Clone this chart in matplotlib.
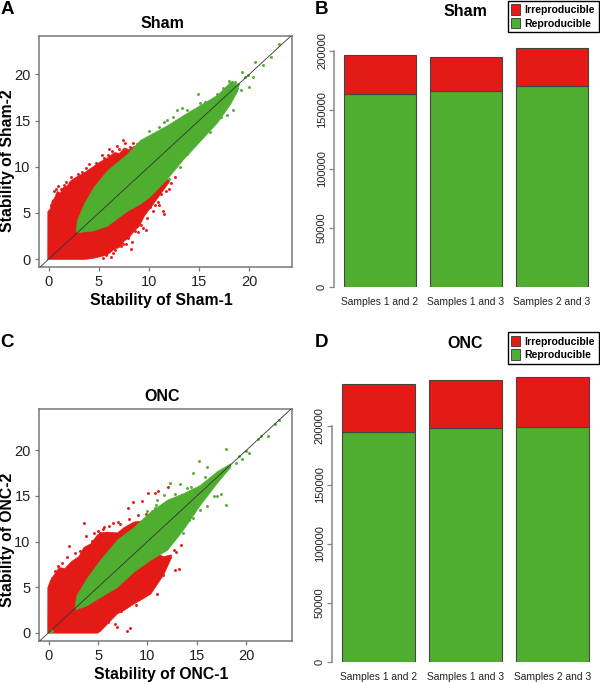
import matplotlib
matplotlib.use("Agg")
import matplotlib.pyplot as plt
from matplotlib.patches import Patch

plt.rcParams['font.family'] = ['Liberation Sans', 'DejaVu Sans']

RED = '#E41A17'
GREEN = '#4FAE30'
W, H = 600, 683

sham_red_x = [-0.15, -0.14, 0.1, 0.3, 0.5, 0.8, 1.1, 1.4, 1.8, 2.1, 2.8, 3.5, 4.3, 5.1, 5.8, 6.5, 7.0, 7.5, 8.0, 8.5, 9.0, 9.5, 10.8, 12.0]
sham_red_up = [0.0, 5.2, 5.5, 6.4, 6.6, 7.4, 7.2, 7.8, 8.0, 8.5, 9.0, 9.4, 10.0, 10.6, 11.0, 11.6, 11.5, 12.1, 11.9, 12.3, 12.0, 11.0, 9.0, 8.6]
sham_red_lo = [0.0, 0.0, 0.0, 0.0, 0.0, 0.0, 0.0, 0.0, 0.0, 0.0, 0.0, 0.0, 0.1, 0.3, 0.5, 1.1, 1.3, 2.0, 2.4, 3.1, 3.6, 4.7, 6.6, 8.4]

sham_green_x = [2.7, 2.8, 3.5, 4.46, 5.8, 7.8, 9.1, 10.1, 11.8, 13.4, 15.1, 16.8, 18.1, 18.9]
sham_green_up = [2.9, 4.2, 6.0, 7.8, 9.6, 11.4, 12.9, 13.5, 14.5, 15.6, 16.7, 17.8, 19.2, 18.9]
sham_green_lo = [2.9, 2.9, 3.0, 3.1, 3.6, 5.2, 6.0, 6.8, 8.7, 10.8, 12.8, 14.8, 16.8, 18.4]

sham_red_pts_x = [11.4, 11.5, 11.0, 9.7, 8.2, 8.3, 7.4, 0.9, 0.5, 0.2, 1.5, 2.2, 3.3, 4.0, 4.2, 5.3, 5.5, 6.3, 6.8, 7.6, 8.1,
                  6.2, 6.4, 5.7, 6.7, 7.2, 7.9, 8.6, 9.2, 9.8, 10.4, 10.9, 11.2, 12.0, 12.6, 5.0, 5.4, 2.5, 1.2,
                  0.7, 1.7, 2.9, 3.7, 4.7, 5.9, 6.0, 7.0, 8.8, 8.4, 7.4, 6.6, 7.7, 8.9, 9.4, 10.1, 10.6, 11.7, 12.2]
sham_red_pts_y = [5.2, 4.9, 5.9, 3.2, 1.1, 1.9, 12.9, 7.9, 7.4, 5.9, 8.0, 8.9, 9.4, 10.3, 9.7, 11.3, 11.0, 11.7, 12.2, 12.6, 12.1,
                  0.2, 0.7, 0.4, 1.6, 1.4, 2.3, 3.0, 3.7, 4.4, 5.2, 6.2, 7.1, 7.6, 8.9, 0.4, 0.1, 8.4, 7.6,
                  7.6, 8.3, 9.2, 9.9, 10.4, 11.3, 11.9, 11.9, 12.5, 12.6, 1.6, 1.0, 1.6, 2.9, 3.4, 5.6, 5.9, 7.4, 8.2]
sham_green_pts_x = [23.0, 21.4, 20.6, 22.2, 20.4, 19.3, 20.0, 14.9, 13.3, 12.8, 18.4, 17.8, 16.1, 16.4, 17.2, 18.9, 19.2,
                    19.6, 18.0, 18.6, 15.6, 14.2, 12.4, 13.1, 13.8, 11.8, 12.4, 13.8, 15.1, 16.8, 17.4, 11.5, 12.0,
                    14.6, 15.4, 16.9, 10.0, 11.0, 19.9, 18.3]
sham_green_pts_y = [23.3, 21.0, 21.4, 21.9, 19.7, 20.3, 18.6, 17.9, 16.4, 16.1, 16.1, 15.6, 13.8, 14.9, 15.4, 19.0, 18.3,
                    19.7, 19.3, 19.2, 17.0, 15.9, 10.0, 10.0, 11.4, 15.05, 15.4, 16.1, 16.9, 17.9, 18.5, 14.9, 8.7,
                    12.7, 13.5, 16.0, 13.9, 14.3, 19.9, 19.2]

onc_red_x = [-0.15, -0.14, 0.13, 0.5, 1.0, 1.6, 2.3, 3.0, 3.5, 4.2, 4.9, 5.2, 5.9, 6.9, 7.6, 8.6, 9.4, 10.3, 11.6, 12.4]
onc_red_up = [0.0, 5.0, 5.8, 6.4, 7.2, 7.1, 7.9, 8.4, 9.4, 9.8, 10.8, 11.0, 11.1, 11.0, 11.6, 12.2, 12.3, 9.0, 8.4, 8.6]
onc_red_lo = [0.0, 0.0, 0.0, 0.0, 0.0, 0.0, 0.0, 0.0, 0.0, 0.0, 0.0, 0.2, 1.0, 2.1, 2.5, 3.2, 3.7, 4.3, 6.4, 8.3]

onc_green_x = [2.6, 2.8, 3.85, 5.2, 6.9, 8.6, 10.3, 12.0, 13.6, 15.3, 17.0, 18.4]
onc_green_up = [2.7, 4.1, 6.0, 8.0, 10.2, 11.6, 13.3, 14.6, 15.3, 16.2, 17.7, 18.6]
onc_green_lo = [2.7, 2.6, 3.0, 3.9, 5.0, 6.7, 8.0, 9.1, 11.3, 14.0, 16.4, 18.2]

onc_red_pts_x = [3.6, 8.0, 8.5, 9.4, 10.1, 10.8, 11.1, 12.1, 11.3, 9.8, 11.0, 12.9, 13.2, 12.8, 7.9, 8.2, 6.7, 6.9, 0.9, 0.3,
                 1.9, 2.1, 5.2, 5.6, 6.1, 7.2, 5.6, 6.3, 7.3, 8.8, 9.6, 10.4, 10.8, 11.6, 3.8, 4.6, 5.0, 6.5,
                 0.6, 1.3, 2.7, 3.2, 4.4, 5.5, 7.0, 8.1, 9.0, 9.9, 12.7, 13.4, 6.0, 7.8, 8.9, 10.0, 11.4]
onc_red_pts_y = [12.0, 13.7, 14.3, 14.4, 15.3, 15.3, 15.5, 16.0, 7.2, 4.1, 4.2, 8.9, 7.0, 6.9, 0.2, 0.5, 1.0, 0.6, 7.3, 6.0,
                 8.3, 9.5, 10.9, 11.6, 11.7, 11.9, 1.5, 1.8, 2.4, 3.0, 4.8, 5.7, 5.3, 6.3, 10.6, 10.9, 11.2, 12.0,
                 6.8, 7.6, 8.7, 9.0, 10.1, 11.4, 12.1, 12.5, 12.9, 13.0, 9.1, 9.6, 1.2, 2.9, 3.9, 5.0, 6.8]
onc_green_pts_x = [23.3, 22.9, 21.5, 21.2, 22.2, 20.0, 20.3, 19.6, 19.3, 17.9, 15.2, 16.0, 14.6, 12.3, 13.3, 14.0, 18.0, 17.4,
                   17.0, 16.7, 16.0, 15.3, 14.2, 11.0, 10.5, 10.8, 11.7, 19.0, 0.1, 0.2, 0.3, 10.0, 10.9, 12.8, 14.4, 15.8, 13.6, 14.6]
onc_green_pts_y = [23.3, 22.9, 21.6, 21.2, 21.6, 19.9, 19.7, 19.0, 19.4, 20.1, 18.8, 18.2, 17.5, 16.4, 16.3, 15.9, 14.0, 15.2,
                   15.0, 15.0, 13.9, 13.5, 12.4, 14.6, 13.3, 13.7, 15.1, 18.6, 0.1, 0.3, 0.2, 13.4, 14.0, 15.2, 16.0, 17.1, 10.9, 12.6]

sample_labels = ['Samples 1 and 2', 'Samples 1 and 3', 'Samples 2 and 3']
sham_reproducible = [163100, 166200, 169900]
sham_total = [196300, 194700, 202600]
onc_reproducible = [194400, 197800, 198700]
onc_total = [235600, 238400, 241500]
bar_ticks = [0, 50000, 100000, 150000, 200000]
scatter_ticks = [0, 5, 10, 15, 20]

fig = plt.figure(figsize=(6, 6.83), dpi=100)


def axes_px(left, top, right, bottom):
    return fig.add_axes([left / W, 1 - bottom / H, (right - left) / W, (bottom - top) / H])


def scatter_panel(box, xlim, ylim, red, green, red_pts, green_pts, title, xlabel, ylabel, xlabel_y, ylabel_y):
    ax = axes_px(*box)
    ax.fill_between(red[0], red[2], red[1], color=RED, lw=0.4, zorder=1)
    ax.scatter(red_pts[0], red_pts[1], s=4.5, color=RED, lw=0, zorder=2)
    ax.fill_between(green[0], green[2], green[1], color=GREEN, lw=0.4, zorder=3)
    ax.scatter(green_pts[0], green_pts[1], s=4.5, color=GREEN, lw=0, zorder=4)
    ax.axline((0, 0), slope=1, color='#333333', lw=0.6, zorder=5)
    ax.set_xlim(*xlim)
    ax.set_ylim(*ylim)
    ax.set_xticks(scatter_ticks)
    ax.set_yticks(scatter_ticks)
    ax.tick_params(labelsize=10.5, length=3, width=0.9, color='#777777', labelcolor='#222222', pad=3)
    for s in ax.spines.values():
        s.set_color('#777777')
        s.set_linewidth(1.1)
    fig.text(162 / W, 1 - (box[1] - 12.5) / H, title, fontsize=11.5, fontweight='bold',
             ha='center', va='center')
    fig.text(161.5 / W, 1 - xlabel_y / H, xlabel, fontsize=11.3, fontweight='bold',
             ha='center', va='center')
    fig.text(8 / W, 1 - ylabel_y / H, ylabel, fontsize=11.3, fontweight='bold',
             rotation=90, ha='center', va='center')


def bar_panel(zero_y, axis_x, centers_px, bar_px, repro, total, title, title_y, legend_top):
    px_per_unit = (centers_px[2] - centers_px[0]) / 2
    top = zero_y - 290
    ax = axes_px(axis_x, top, 600, zero_y)
    ax.set_xlim((axis_x - centers_px[0]) / px_per_unit, (600 - centers_px[0]) / px_per_unit)
    ax.set_ylim(0, 290 * 200000 / 236.3)
    ax.patch.set_alpha(0)
    pos = [0, (centers_px[1] - centers_px[0]) / px_per_unit, 2]
    irr = [t - r for t, r in zip(total, repro)]
    ax.bar(pos, repro, width=bar_px / px_per_unit, color=GREEN, edgecolor='#444444', lw=0.8)
    ax.bar(pos, irr, bottom=repro, width=bar_px / px_per_unit, color=RED, edgecolor='#444444', lw=0.8)
    for s in ['top', 'right', 'bottom']:
        ax.spines[s].set_visible(False)
    ax.spines['left'].set_bounds(0, 200000)
    ax.spines['left'].set_color('#888888')
    ax.spines['left'].set_linewidth(1.1)
    ax.set_yticks(bar_ticks)
    ax.set_yticklabels([str(t) for t in bar_ticks], rotation=90, va='center', fontsize=8)
    ax.set_xticks(pos)
    ax.set_xticklabels(sample_labels, fontsize=7.4)
    ax.tick_params(axis='x', length=0, pad=7.5, labelcolor='#222222')
    ax.tick_params(axis='y', length=3.5, width=0.9, color='#888888', labelcolor='#222222', pad=1.5)
    fig.text(465.5 / W, 1 - title_y / H, title, fontsize=11.5, fontweight='bold', ha='center', va='center')
    handles = [Patch(facecolor=RED, edgecolor='#333333', lw=0.6, label='Irreproducible'),
               Patch(facecolor=GREEN, edgecolor='#333333', lw=0.6, label='Reproducible')]
    leg = fig.legend(handles=handles, loc='upper right', bbox_to_anchor=(598.8 / W, 1 - legend_top / H),
                     prop={'size': 7.6, 'weight': 'bold'}, fancybox=False, framealpha=1, edgecolor='black',
                     borderpad=0.35, handlelength=0.85, handleheight=1.15, handletextpad=0.4,
                     labelspacing=0.25, borderaxespad=0)
    leg.get_frame().set_linewidth(1.0)


scatter_panel((39, 35.7, 291.7, 266.7), (-0.97, 24.25), (-0.83, 24.2),
              (sham_red_x, sham_red_up, sham_red_lo), (sham_green_x, sham_green_up, sham_green_lo),
              (sham_red_pts_x, sham_red_pts_y), (sham_green_pts_x, sham_green_pts_y),
              'Sham', 'Stability of Sham-1', 'Stability of Sham-2', 300, 161)
scatter_panel((39, 409.3, 291.7, 640.7), (-0.98, 24.6), (-0.88, 24.5),
              (onc_red_x, onc_red_up, onc_red_lo), (onc_green_x, onc_green_up, onc_green_lo),
              (onc_red_pts_x, onc_red_pts_y), (onc_green_pts_x, onc_green_pts_y),
              'ONC', 'Stability of ONC-1', 'Stability of ONC-2', 674, 540)

bar_panel(287, 334, (379.7, 465.7, 551.7), 72, sham_reproducible, sham_total, 'Sham', 12, 0.7)
bar_panel(662, 331.7, (378.2, 465.3, 552.2), 73, onc_reproducible, onc_total, 'ONC', 343, 332.3)

for letter, x, y in [('A', 7, 9.5), ('B', 322, 9.5), ('C', 7, 342.5), ('D', 322, 342.5)]:
    fig.text(x / W, 1 - y / H, letter, fontsize=13.5, fontweight='bold', ha='center', va='center')

fig.savefig('out.png', dpi=100)
